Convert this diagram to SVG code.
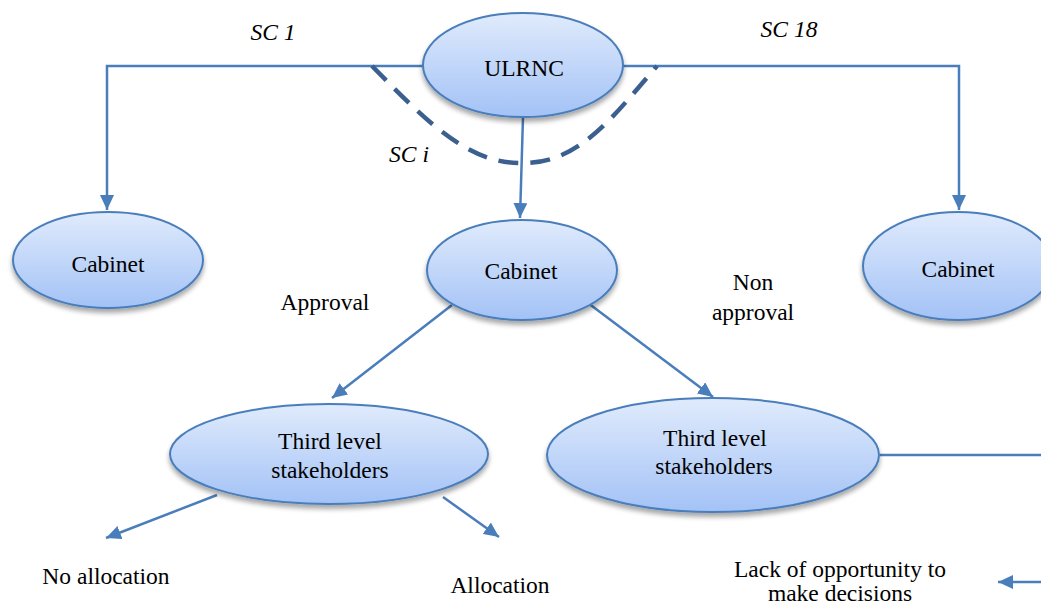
<svg xmlns="http://www.w3.org/2000/svg" width="1041" height="606" viewBox="0 0 1041 606">
<defs>
<linearGradient id="g" x1="0" y1="0" x2="0" y2="1">
<stop offset="0" stop-color="#e0ebfc"/>
<stop offset="1" stop-color="#a3c2f6"/>
</linearGradient>
<filter id="sh" x="-10%" y="-10%" width="120%" height="130%">
<feGaussianBlur in="SourceAlpha" stdDeviation="2.5"/>
<feOffset dx="0" dy="4" result="b"/>
<feComponentTransfer><feFuncA type="linear" slope="0.35"/></feComponentTransfer>
<feMerge><feMergeNode/><feMergeNode in="SourceGraphic"/></feMerge>
</filter>
<marker id="ah" markerUnits="userSpaceOnUse" markerWidth="16" markerHeight="14" refX="15" refY="7" orient="auto">
<path d="M0,0 L15,7 L0,14 Z" fill="#4a7ebb"/>
</marker>
</defs>
<style>
.node ellipse{fill:url(#g);stroke:#4a7ebb;stroke-width:2;filter:url(#sh)}
text{font-family:'Liberation Serif','DejaVu Serif',serif;font-size:23.5px;fill:#000;text-anchor:middle}
.it{font-style:italic}
.c{fill:none;stroke:#4a7ebb;stroke-width:2.5}
.a{marker-end:url(#ah)}
.dash{fill:none;stroke:#3b5f8e;stroke-width:4.5;stroke-dasharray:20 12}
</style>
<g id="connectors">
<path class="c a" d="M423,66 H107 V210"/>
<path class="c a" d="M623,66 H959 V210"/>
<path class="c a" d="M523,117 L520,218"/>
<path class="c a" d="M452,305 L332,398"/>
<path class="c a" d="M588,303 L713,397"/>
<path class="c a" d="M217,495 L106,538"/>
<path class="c a" d="M443,497 L499,537"/>
<path class="c" d="M880,455 H1041"/>
<path class="c a" d="M1041,582 H998"/>
<path class="dash" d="M372,66 C430,125 470,165 525,163 C580,162 612,118 657,66"/>
</g>
<g id="ulrnc" class="node"><ellipse cx="523" cy="65" rx="100" ry="52"/><text x="524" y="76">ULRNC</text></g>
<g id="cabinet-left" class="node"><ellipse cx="108" cy="260" rx="95" ry="48"/><text x="108" y="272">Cabinet</text></g>
<g id="cabinet-mid" class="node"><ellipse cx="522" cy="270" rx="95" ry="50"/><text x="521" y="279">Cabinet</text></g>
<g id="cabinet-right" class="node"><ellipse cx="958" cy="266" rx="95" ry="54"/><text x="958" y="277">Cabinet</text></g>
<g id="tls-left" class="node"><ellipse cx="329" cy="454" rx="159" ry="50"/><text x="330" y="449">Third level</text><text x="330" y="478">stakeholders</text></g>
<g id="tls-right" class="node"><ellipse cx="713" cy="455" rx="166" ry="57"/><text x="715" y="446">Third level</text><text x="714" y="474">stakeholders</text></g>
<g id="labels">
<text class="it" x="273" y="40">SC 1</text>
<text class="it" x="789" y="37">SC 18</text>
<text class="it" x="409" y="162">SC i</text>
<text x="325" y="310">Approval</text>
<text x="753" y="290">Non</text>
<text x="753" y="320">approval</text>
<text x="106" y="584">No allocation</text>
<text x="500" y="593">Allocation</text>
<text x="840" y="577">Lack of opportunity to</text>
<text x="840" y="601">make decisions</text>
</g>
</svg>
